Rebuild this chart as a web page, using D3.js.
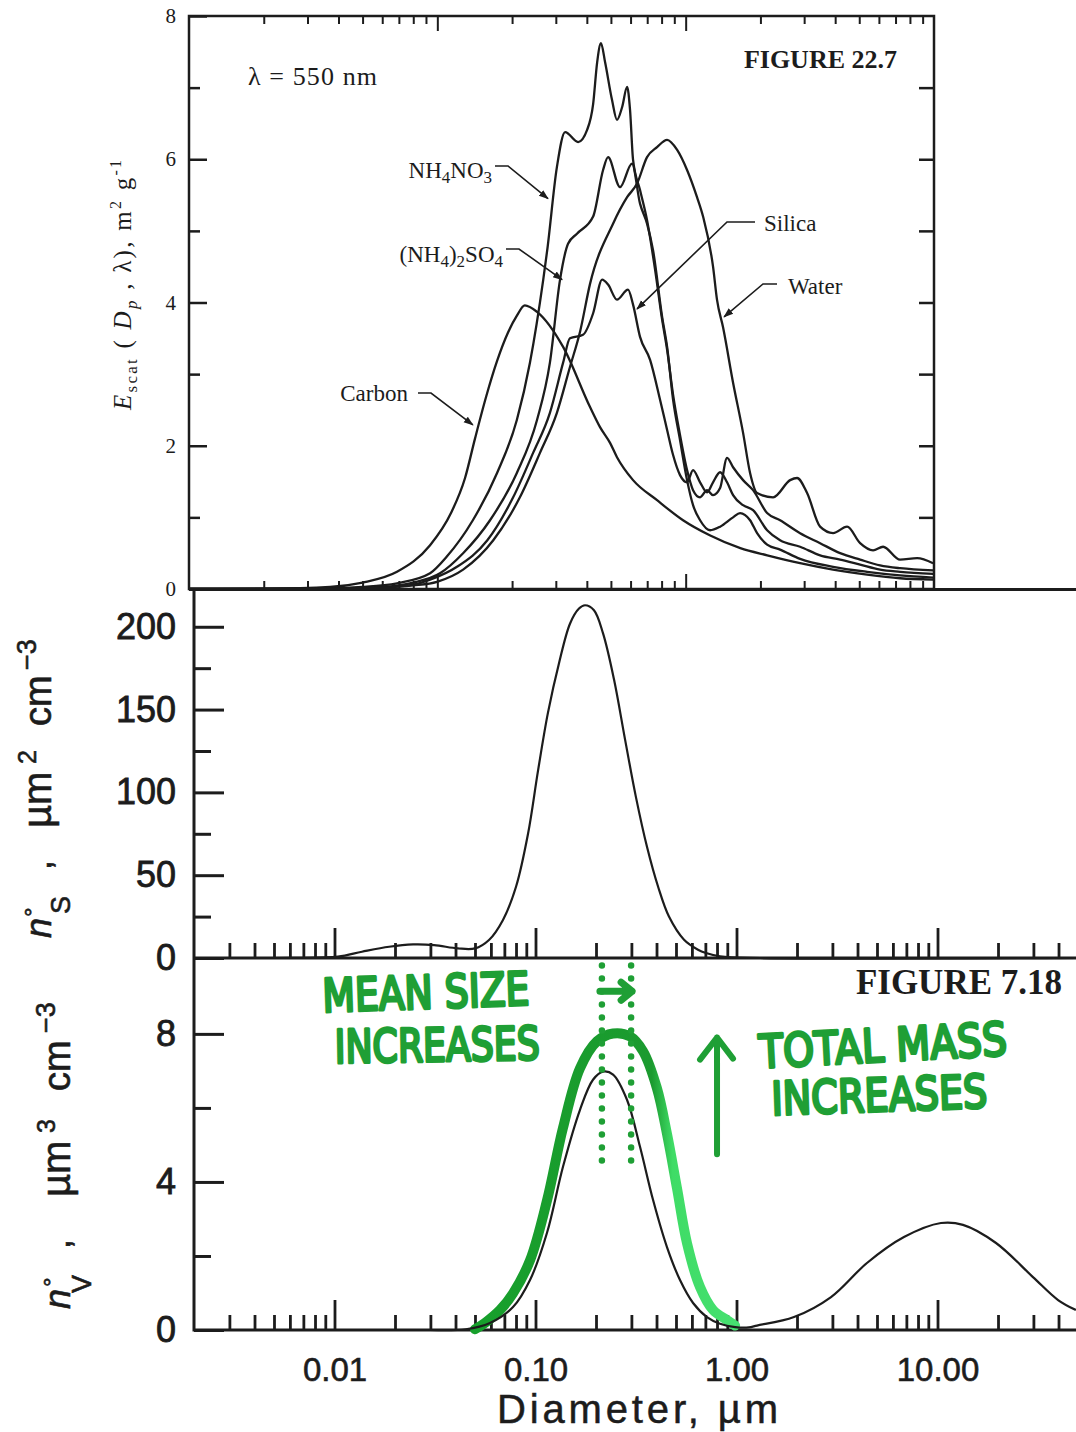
<!DOCTYPE html>
<html>
<head>
<meta charset="utf-8">
<script src="https://cdn.jsdelivr.net/npm/d3@7"></script>
<style>
  body { margin: 0; background: #fff; }
  svg { display: block; }
</style>
</head>
<body>
<script>
// ============================ DATA ====================================
// Figure 22.7 : mass scattering efficiency (m2/g) vs particle diameter (um), lambda = 550 nm
let carbon = [[0.01,0],[0.02,0.005],[0.037,0.03],[0.050,0.09],[0.0688,0.24],[0.0935,0.61],[0.1135,1.06],[0.1293,1.55],
  [0.1418,2.10],[0.1571,2.68],[0.1739,3.18],[0.1926,3.58],[0.2094,3.82],[0.225,3.96],[0.252,3.87],[0.321,3.38],
  [0.412,2.54],[0.452,2.26],[0.496,2.04],[0.529,1.84],[0.614,1.52],[0.767,1.24],[0.976,0.96],[1.25,0.75],[1.66,0.57],
  [2.13,0.47],[2.89,0.36],[3.92,0.27],[5.38,0.20],[7.30,0.15],[9.92,0.13]];

let nh4no3 = [[0.01,0],[0.03,0.005],[0.050,0.03],[0.0688,0.08],[0.0935,0.22],[0.109,0.45],[0.139,0.96],[0.174,1.62],
  [0.209,2.36],[0.236,3.16],[0.267,4.32],[0.277,4.73],[0.303,5.89],[0.327,6.38],[0.369,6.24],[0.401,6.41],[0.424,6.77],
  [0.440,7.35],[0.456,7.62],[0.474,7.35],[0.505,6.83],[0.529,6.55],[0.555,6.73],[0.581,7.01],[0.597,6.69],[0.614,5.99],
  [0.655,5.57],[0.699,5.15],[0.753,4.46],[0.804,3.76],[0.842,3.34],[0.890,2.71],[0.949,2.15],[1.013,1.66],[1.071,1.38],
  [1.143,1.28],[1.220,1.38],[1.289,1.31],[1.376,1.41],[1.468,1.83],[1.552,1.70],[1.703,1.52],[1.868,1.38],[2.128,1.06],
  [2.400,0.96],[2.889,0.78],[3.478,0.64],[4.187,0.50],[5.040,0.41],[6.066,0.33],[7.303,0.29],[9.917,0.26]];

let sulfate = [[0.01,0],[0.03,0.005],[0.060,0.03],[0.080,0.09],[0.1025,0.22],[0.127,0.50],[0.163,0.96],[0.209,1.62],
  [0.252,2.36],[0.284,3.16],[0.312,4.32],[0.336,4.82],[0.365,4.96],[0.424,5.20],[0.465,5.85],[0.487,6.03],[0.544,5.61],
  [0.608,5.94],[0.655,5.38],[0.699,5.10],[0.739,4.73],[0.804,3.80],[0.842,3.38],[0.890,2.64],[0.949,2.08],[1.013,1.52],
  [1.071,1.17],[1.143,0.96],[1.254,0.82],[1.376,0.87],[1.552,1.00],[1.656,1.06],[1.817,0.96],[1.939,0.78],[2.128,0.62],
  [2.400,0.55],[2.889,0.42],[3.924,0.31],[5.378,0.24],[7.303,0.19],[9.917,0.16]];

let silica = [[0.01,0],[0.03,0.003],[0.060,0.02],[0.080,0.06],[0.0935,0.13],[0.120,0.31],[0.159,0.68],[0.202,1.28],
  [0.243,1.90],[0.284,2.46],[0.321,3.16],[0.342,3.50],[0.386,3.55],[0.424,3.85],[0.461,4.32],[0.487,4.25],[0.529,4.04],
  [0.586,4.18],[0.614,3.97],[0.655,3.52],[0.719,3.20],[0.789,2.64],[0.842,2.22],[0.890,1.87],[0.949,1.59],[1.013,1.49],
  [1.071,1.66],[1.143,1.49],[1.220,1.35],[1.289,1.49],[1.376,1.63],[1.468,1.49],[1.552,1.31],[1.703,1.17],[1.868,1.10],
  [2.128,0.82],[2.400,0.68],[2.889,0.59],[3.478,0.47],[4.187,0.41],[5.040,0.34],[6.066,0.27],[7.303,0.24],[9.917,0.21]];

let water = [[0.01,0],[0.03,0.003],[0.060,0.02],[0.080,0.05],[0.0997,0.10],[0.127,0.27],[0.168,0.68],[0.215,1.28],
  [0.259,1.90],[0.303,2.46],[0.342,3.10],[0.376,3.60],[0.412,4.26],[0.510,5.10],[0.581,5.47],[0.637,5.66],[0.699,6.03],
  [0.767,6.17],[0.842,6.27],[0.924,6.13],[1.013,5.85],[1.111,5.47],[1.175,5.20],[1.289,4.50],[1.337,4.04],[1.415,3.65],
  [1.552,2.88],[1.703,2.18],[1.817,1.62],[1.939,1.34],[2.249,1.28],[2.634,1.52],[2.810,1.55],[3.083,1.34],[3.478,0.87],
  [3.924,0.78],[4.467,0.87],[5.040,0.64],[5.685,0.54],[6.237,0.59],[7.303,0.41],[8.551,0.43],[9.917,0.36]];

// Figure 7.18 : surface distribution n_S (um2 cm-3)
let surfaceDist = [[0.0035,0],[0.006,0.1],[0.0104,0.8],[0.0137,3.8],[0.0187,6.8],[0.0246,8.2],[0.0313,7.8],[0.0411,5.8],
  [0.0500,5.8],[0.0587,10.9],[0.0689,23],[0.0800,43],[0.0918,75],[0.1029,113],[0.1153,148],[0.1309,178],[0.1486,202],
  [0.1646,211],[0.1763,213],[0.1954,210],[0.2168,196],[0.2460,168],[0.2789,132],[0.3162,97],[0.3589,67],[0.4074,43],
  [0.4613,25],[0.5483,11],[0.6432,5],[0.7047,3],[0.828,1],[1.31,0],[50,0]];

// Figure 7.18 : volume distribution n_V (um3 cm-3), printed curve
let volumeDist = [[0.030,0],[0.045,0.02],[0.0594,0.19],[0.0773,0.62],[0.0939,1.35],[0.114,2.62],[0.137,4.41],[0.1665,5.95],
  [0.1932,6.76],[0.2168,6.98],[0.2432,6.90],[0.2852,6.22],[0.3311,4.95],[0.3846,3.51],[0.4509,2.24],[0.5235,1.35],
  [0.6081,0.73],[0.7129,0.35],[0.828,0.17],[0.984,0.08],[1.15,0.07],[1.265,0.12],[1.932,0.35],[2.953,0.89],[4.457,1.81],
  [6.81,2.51],[10.40,2.89],[13.39,2.84],[19.55,2.35],[29.85,1.43],[39.8,0.81],[48.8,0.54]];

// hand drawn green curve (grown accumulation mode)
let volumeDistGrown = [[0.050,0.02],[0.0560,0.19],[0.0666,0.54],[0.0773,0.99],[0.0939,1.88],[0.114,3.49],
  [0.137,5.46],[0.1665,7.07],[0.2023,7.80],[0.2432,8.01],[0.2953,7.93],[0.3428,7.53],[0.4020,6.53],[0.4509,5.30],
  [0.5054,3.84],[0.5675,2.34],[0.6584,1.16],[0.7645,0.54],[0.8972,0.27],[0.984,0.12]];

let modeDiameters = [0.214, 0.299];      // green dotted markers
let escatTicks = [0, 2, 4, 6, 8];
let escatMinor = [1, 3, 5, 7];
let surfTicks = [0, 50, 100, 150, 200];
let surfMinor = [25, 75, 125, 175];
let volTicks = [0, 4, 8];
let volMinor = [2, 6];
let diamTicks = [0.01, 0.1, 1, 10];

// ============================ SETUP ===================================
const INK = '#1c1c1c';
const GREEN = '#1f9f35';
const SERIF = "'Liberation Serif', 'Times New Roman', serif";
const SANS = "'Liberation Sans', Arial, sans-serif";

let svg = d3.select('body').append('svg')
    .attr('width', 1076)
    .attr('height', 1432);

let defs = svg.append('defs');
defs.append('marker')
    .attr('id', 'arrow')
    .attr('viewBox', '0 0 10 10')
    .attr('refX', 9).attr('refY', 5)
    .attr('markerWidth', 10).attr('markerHeight', 10)
    .attr('markerUnits', 'userSpaceOnUse')
    .attr('orient', 'auto')
  .append('path')
    .attr('d', 'M0,1.5 L10,5 L0,8.5 Z')
    .attr('fill', INK);

defs.append('clipPath').attr('id', 'clipTop')
  .append('rect').attr('x', 189).attr('y', 16).attr('width', 745).attr('height', 573);

let grad = defs.append('linearGradient').attr('id', 'greenGrad')
    .attr('x1', '0%').attr('x2', '100%').attr('y1', '0%').attr('y2', '0%');
grad.append('stop').attr('offset', '0%').attr('stop-color', '#17a02c');
grad.append('stop').attr('offset', '68%').attr('stop-color', '#1b9a2f');
grad.append('stop').attr('offset', '76%').attr('stop-color', '#3fdc66');
grad.append('stop').attr('offset', '100%').attr('stop-color', '#46e070');

function styleAxis(g, width) {
    g.select('.domain').remove();
    g.attr('font-size', null).attr('font-family', null);
    g.selectAll('.tick line').attr('stroke', INK).attr('stroke-width', width);
    return g;
}

// ============================ TOP PANEL (Figure 22.7) =================
let xTop = d3.scaleLog().domain([0.01, 10]).range([189, 934]);
let yTop = d3.scaleLinear().domain([0, 8]).range([589, 16]);
let topMinor = xTop.ticks().filter(d => !diamTicks.includes(d) && d > 0.011 && d < 9.5);

let topPanel = svg.append('g').attr('font-family', SERIF).attr('fill', INK);

// bottom edge ticks (pointing up) and top edge ticks (pointing down)
topPanel.append('g').attr('transform', 'translate(0,589)')
    .call(d3.axisTop(xTop).tickValues([0.1, 1]).tickSize(15).tickFormat(''))
    .call(g => styleAxis(g, 2));
topPanel.append('g').attr('transform', 'translate(0,589)')
    .call(d3.axisTop(xTop).tickValues(topMinor).tickSize(8).tickFormat(''))
    .call(g => styleAxis(g, 2));
topPanel.append('g').attr('transform', 'translate(0,16)')
    .call(d3.axisBottom(xTop).tickValues([0.1, 1]).tickSize(15).tickFormat(''))
    .call(g => styleAxis(g, 2));
topPanel.append('g').attr('transform', 'translate(0,16)')
    .call(d3.axisBottom(xTop).tickValues(topMinor).tickSize(8).tickFormat(''))
    .call(g => styleAxis(g, 2));

// left axis with labels, ticks inward
topPanel.append('g').attr('transform', 'translate(189,0)')
    .call(d3.axisLeft(yTop).tickValues(escatTicks).tickSize(-18).tickPadding(13).tickFormat(d3.format('d')))
    .call(g => styleAxis(g, 2.5))
    .call(g => g.selectAll('text').attr('font-size', 21).attr('fill', INK));
topPanel.append('g').attr('transform', 'translate(189,0)')
    .call(d3.axisLeft(yTop).tickValues(escatMinor).tickSize(-11).tickFormat(''))
    .call(g => styleAxis(g, 2.5));
// right axis ticks inward
topPanel.append('g').attr('transform', 'translate(934,0)')
    .call(d3.axisLeft(yTop).tickValues(escatMinor.concat([2, 4, 6])).tickSize(15).tickFormat(''))
    .call(g => styleAxis(g, 2.5));

topPanel.append('rect')
    .attr('x', 189).attr('y', 16).attr('width', 745).attr('height', 573)
    .attr('fill', 'none').attr('stroke', INK).attr('stroke-width', 2.5);

let lineTop = d3.line()
    .x(d => xTop(d[0]))
    .y(d => yTop(d[1]))
    .curve(d3.curveMonotoneX);

topPanel.append('g').attr('clip-path', 'url(#clipTop)')
  .selectAll('path')
    .data([carbon, nh4no3, sulfate, silica, water]).enter()
  .append('path')
    .attr('d', lineTop)
    .attr('fill', 'none')
    .attr('stroke', INK)
    .attr('stroke-width', 2.3)
    .attr('stroke-linejoin', 'round');

// curve labels with leader arrows
let curveLabels = [
    { parts: [['NH', 0], ['4', 1], ['NO', 0], ['3', 1]], x: 492, y: 178, anchor: 'end', elbow: [[495, 166], [508, 166]], tip: [0.279, 5.45] },
    { parts: [['(NH', 0], ['4', 1], [')', 0], ['2', 1], ['SO', 0], ['4', 1]], x: 503, y: 262, anchor: 'end', elbow: [[506, 249], [519, 249]], tip: [0.318, 4.32] },
    { parts: [['Carbon', 0]], x: 408, y: 401, anchor: 'end', elbow: [[418, 393], [431, 393]], tip: [0.139, 2.29] },
    { parts: [['Silica', 0]], x: 764, y: 231, anchor: 'start', elbow: [[755, 222], [727, 222]], tip: [0.637, 3.91] },
    { parts: [['Water', 0]], x: 788, y: 294, anchor: 'start', elbow: [[777, 284], [763, 284]], tip: [1.428, 3.80] }
];

curveLabels.forEach(function (lab) {
    let t = topPanel.append('text')
        .attr('x', lab.x).attr('y', lab.y)
        .attr('text-anchor', lab.anchor)
        .attr('font-size', 22);
    let shift = 0;
    lab.parts.forEach(function (p) {
        let want = p[1] ? 5 : 0;
        t.append('tspan')
            .attr('dy', want - shift)
            .attr('font-size', p[1] ? 17 : 23)
            .text(p[0]);
        shift = want;
    });
    let pts = lab.elbow.concat([[xTop(lab.tip[0]), yTop(lab.tip[1])]]);
    topPanel.append('path')
        .attr('d', d3.line()(pts))
        .attr('fill', 'none')
        .attr('stroke', INK)
        .attr('stroke-width', 1.6)
        .attr('marker-end', 'url(#arrow)');
});

topPanel.append('text')
    .attr('x', 248).attr('y', 85)
    .attr('font-size', 26)
    .attr('textLength', 129)
    .text('λ = 550 nm');

topPanel.append('text')
    .attr('x', 897).attr('y', 68)
    .attr('text-anchor', 'end')
    .attr('font-size', 26)
    .attr('font-weight', 'bold')
    .text('FIGURE 22.7');

let escatLabel = topPanel.append('text')
    .attr('transform', 'translate(131,410) rotate(-90)')
    .attr('font-size', 25)
    .attr('textLength', 250);
escatLabel.append('tspan').attr('font-style', 'italic').text('E');
escatLabel.append('tspan').attr('font-size', 17).attr('dy', 6).text('scat');
escatLabel.append('tspan').attr('dy', -6).text(' ( ');
escatLabel.append('tspan').attr('font-style', 'italic').text('D');
escatLabel.append('tspan').attr('font-style', 'italic').attr('font-size', 17).attr('dy', 6).text('p');
escatLabel.append('tspan').attr('dy', -6).text(' , λ),  m');
escatLabel.append('tspan').attr('font-size', 16).attr('dy', -10).text('2');
escatLabel.append('tspan').attr('dy', 10).text(' g');
escatLabel.append('tspan').attr('font-size', 16).attr('dy', -10).text('-1');

// ============================ LOWER PANELS (Figure 7.18) ==============
let xB = d3.scaleLog().domain([0.002, 50]).range([194, 1078]);
let ySurf = d3.scaleLinear().domain([0, 222.2]).range([958, 590]);
let yVol = d3.scaleLinear().domain([0, 10.05]).range([1330, 958]);
let bMinor = xB.ticks().filter(d => !diamTicks.includes(d) && d > 0.0025 && d < 45);

let low = svg.append('g').attr('font-family', SANS).attr('fill', INK);

// x ticks on both lower axes, pointing up
[958, 1330].forEach(function (yy) {
    low.append('g').attr('transform', 'translate(0,' + yy + ')')
        .call(d3.axisTop(xB).tickValues(diamTicks).tickSize(30).tickFormat(''))
        .call(g => styleAxis(g, 2.8));
    low.append('g').attr('transform', 'translate(0,' + yy + ')')
        .call(d3.axisTop(xB).tickValues(bMinor).tickSize(15).tickFormat(''))
        .call(g => styleAxis(g, 2.8));
});

// tick labels on the bottom axis
low.append('g').attr('transform', 'translate(0,1330)')
    .call(d3.axisBottom(xB).tickValues(diamTicks).tickSize(0).tickPadding(28).tickFormat(d3.format('.2f')))
    .call(g => styleAxis(g, 0))
    .call(g => g.selectAll('text').attr('font-size', 33).attr('fill', INK)
        .attr('stroke', INK).attr('stroke-width', 0.6));

// y axes
low.append('g').attr('transform', 'translate(194,0)')
    .call(d3.axisLeft(ySurf).tickValues(surfTicks).tickSize(-30).tickPadding(18).tickFormat(d3.format('d')))
    .call(g => styleAxis(g, 3))
    .call(g => g.selectAll('text').attr('font-size', 36).attr('fill', INK)
        .attr('stroke', INK).attr('stroke-width', 0.8));
low.append('g').attr('transform', 'translate(194,0)')
    .call(d3.axisLeft(ySurf).tickValues(surfMinor).tickSize(-17).tickFormat(''))
    .call(g => styleAxis(g, 3));
low.append('g').attr('transform', 'translate(194,0)')
    .call(d3.axisLeft(yVol).tickValues(volTicks).tickSize(-30).tickPadding(18).tickFormat(d3.format('d')))
    .call(g => styleAxis(g, 3))
    .call(g => g.selectAll('text').attr('font-size', 36).attr('fill', INK)
        .attr('stroke', INK).attr('stroke-width', 0.8));
low.append('g').attr('transform', 'translate(194,0)')
    .call(d3.axisLeft(yVol).tickValues(volMinor).tickSize(-17).tickFormat(''))
    .call(g => styleAxis(g, 3));

// frame lines
low.append('line').attr('x1', 189).attr('x2', 1076).attr('y1', 589.5).attr('y2', 589.5).attr('stroke', INK).attr('stroke-width', 3);
low.append('line').attr('x1', 194).attr('x2', 194).attr('y1', 589).attr('y2', 1331.5).attr('stroke', INK).attr('stroke-width', 3);
low.append('line').attr('x1', 194).attr('x2', 1076).attr('y1', 958).attr('y2', 958).attr('stroke', INK).attr('stroke-width', 3);
low.append('line').attr('x1', 194).attr('x2', 1076).attr('y1', 1330).attr('y2', 1330).attr('stroke', INK).attr('stroke-width', 3);

// surface distribution
low.append('path')
    .attr('d', d3.line().x(d => xB(d[0])).y(d => ySurf(d[1])).curve(d3.curveCatmullRom.alpha(0.5))(surfaceDist))
    .attr('fill', 'none').attr('stroke', INK).attr('stroke-width', 2.2);

// green hand drawn curve, then the printed curve on top
low.append('path')
    .attr('d', d3.line().x(d => xB(d[0])).y(d => yVol(d[1])).curve(d3.curveCatmullRom.alpha(0.5))(volumeDistGrown))
    .attr('fill', 'none').attr('stroke', 'url(#greenGrad)').attr('stroke-width', 10)
    .attr('stroke-linecap', 'round').attr('stroke-linejoin', 'round');
low.append('path')
    .attr('d', d3.line().x(d => xB(d[0])).y(d => yVol(d[1])).curve(d3.curveCatmullRom.alpha(0.5))(volumeDist))
    .attr('fill', 'none').attr('stroke', INK).attr('stroke-width', 2.2);

// green dotted mode markers
low.selectAll('.modeLine')
    .data(modeDiameters).enter()
    .append('line')
        .attr('class', 'modeLine')
        .attr('x1', d => xB(d)).attr('x2', d => xB(d))
        .attr('y1', yVol(9.85)).attr('y2', yVol(4.5))
        .attr('stroke', GREEN).attr('stroke-width', 6.5)
        .attr('stroke-linecap', 'round')
        .attr('stroke-dasharray', '0 13');

// small arrow between the dotted lines
let ax0 = xB(modeDiameters[0]) - 2, ax1 = xB(modeDiameters[1]) + 1, ay = yVol(9.15);
low.append('path')
    .attr('d', 'M' + ax0 + ',' + ay + 'L' + ax1 + ',' + ay + 'M' + (ax1 - 11) + ',' + (ay - 9) + 'L' + ax1 + ',' + ay + 'L' + (ax1 - 11) + ',' + (ay + 9))
    .attr('fill', 'none').attr('stroke', GREEN).attr('stroke-width', 7)
    .attr('stroke-linecap', 'round').attr('stroke-linejoin', 'round');

// up arrow
let ux = xB(0.80), uy0 = yVol(4.75), uy1 = yVol(7.9);
low.append('path')
    .attr('d', 'M' + ux + ',' + uy0 + 'L' + ux + ',' + uy1 + 'M' + (ux - 17) + ',' + (uy1 + 22) + 'L' + ux + ',' + uy1 + 'L' + (ux + 16) + ',' + (uy1 + 21))
    .attr('fill', 'none').attr('stroke', GREEN).attr('stroke-width', 6)
    .attr('stroke-linecap', 'round').attr('stroke-linejoin', 'round');

// handwritten notes
let notes = [
    { text: 'MEAN SIZE', x: 323, y: 1012, len: 207, rot: -2 },
    { text: 'INCREASES', x: 335, y: 1063, len: 205, rot: -1 },
    { text: 'TOTAL MASS', x: 760, y: 1068, len: 248, rot: -3 },
    { text: 'INCREASES', x: 772, y: 1115, len: 216, rot: -2 }
];
low.selectAll('.note')
    .data(notes).enter()
    .append('text')
        .attr('class', 'note')
        .attr('x', d => d.x).attr('y', d => d.y)
        .attr('transform', d => 'rotate(' + d.rot + ',' + d.x + ',' + d.y + ')')
        .attr('font-family', "'DejaVu Sans', sans-serif")
        .attr('font-size', 46)
        .attr('textLength', d => d.len)
        .attr('lengthAdjust', 'spacingAndGlyphs')
        .attr('fill', GREEN)
        .attr('stroke', GREEN).attr('stroke-width', 3.2)
        .attr('stroke-linejoin', 'round')
        .text(d => d.text);

low.append('text')
    .attr('x', 1062).attr('y', 994)
    .attr('text-anchor', 'end')
    .attr('font-family', SERIF)
    .attr('font-weight', 'bold')
    .attr('font-size', 35)
    .text('FIGURE 7.18');

low.append('text')
    .attr('x', 497).attr('y', 1423)
    .attr('font-size', 40)
    .attr('textLength', 281)
    .attr('stroke', INK).attr('stroke-width', 0.5)
    .text('Diameter,  µm');

// rotated y labels, each piece placed along the axis (offset from the bottom end)
function distLabel(x, y, pieces) {
    pieces.forEach(function (p) {
        low.append('text')
            .attr('transform', 'translate(' + x + ',' + (y - p.off) + ') rotate(-90)')
            .attr('y', p.shift)
            .attr('font-size', p.size)
            .attr('font-style', p.italic ? 'italic' : null)
            .attr('stroke', INK).attr('stroke-width', 0.6)
            .text(p.t);
    });
}
distLabel(51, 938, [
    { t: 'n', off: 0, shift: 0, size: 36, italic: true },
    { t: '°', off: 21, shift: -10, size: 24 },
    { t: 'S', off: 24, shift: 19, size: 27 },
    { t: ',', off: 68, shift: 0, size: 36 },
    { t: 'µm', off: 110, shift: 0, size: 40 },
    { t: '2', off: 174, shift: -15, size: 25 },
    { t: 'cm', off: 212, shift: 0, size: 38 },
    { t: '−3', off: 268, shift: -15, size: 27 }
]);
distLabel(70, 1309, [
    { t: 'n', off: 0, shift: 0, size: 36, italic: true },
    { t: '°', off: 22, shift: -10, size: 24 },
    { t: 'V', off: 16, shift: 21, size: 27 },
    { t: ',', off: 60, shift: 0, size: 36 },
    { t: 'µm', off: 112, shift: 0, size: 40 },
    { t: '3', off: 176, shift: -15, size: 25 },
    { t: 'cm', off: 218, shift: 0, size: 38 },
    { t: '−3', off: 276, shift: -15, size: 27 }
]);
</script>
</body>
</html>
